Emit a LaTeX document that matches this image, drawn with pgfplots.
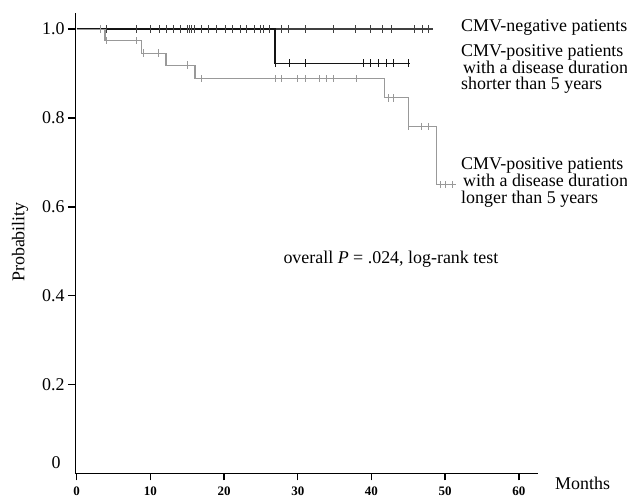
\documentclass[border=0pt]{standalone}
\usepackage{pgfplots}
\pgfplotsset{compat=1.18}
\usepackage{fontspec}
\setmainfont{Liberation Serif}

\definecolor{negc}{gray}{0.25}
\definecolor{shortc}{gray}{0.08}
\definecolor{longc}{gray}{0.6}

\newcommand{\lbl}{\fontsize{18}{19}\selectfont}

\begin{document}
\begin{tikzpicture}
\begin{axis}[
  scale only axis, width=463bp, height=460bp,
  xmin=-0.23, xmax=62.6, ymin=0, ymax=1.035,
  axis x line*=bottom, axis y line*=left,
  axis line style={-},
  x axis line style={-, line width=1.4bp},
  y axis line style={-, line width=0.9bp},
  tick align=outside, major tick length=7bp,
  xtick={0,10,...,60}, xticklabels={0,10,20,30,40,50,60},
  ytick={0.2,0.4,0.6,0.8,1.0}, yticklabels={0.2,0.4,0.6,0.8,1.0},
  x tick style={line width=1.4bp, black},
  y tick style={line width=1.4bp, black},
  xticklabel style={font=\fontsize{13}{13}\selectfont\bfseries, yshift=-2.5bp},
  yticklabel style={font=\lbl},
  clip=false,
]
% CMV-negative
\addplot[negc, line width=1.2bp] coordinates {(0,1) (48.4,1)};
\addplot[negc, only marks, mark=|, mark size=4bp, mark options={line width=1bp}]
  coordinates {
    (4.07,1) (8.14,1) (10.04,1) (11.17,1) (12.12,1) (13.11,1) (14.02,1)
    (15.06,1) (15.3,1) (15.6,1) (16.05,1) (16.96,1) (17.85,1) (17.95,1)
    (19.0,1) (20.2,1) (21.2,1) (22.2,1) (23.1,1) (24.1,1) (24.9,1)
    (25.4,1) (26.1,1) (27.8,1) (28.7,1) (31.1,1) (34.8,1) (34.9,1)
    (37.9,1) (39.9,1) (41.5,1) (42.7,1) (45.9,1) (46.9,1) (47.8,1)
  };
% CMV-positive, shorter than 5 years
\addplot[shortc, line width=1.2bp, const plot]
  coordinates {(0,1) (26.9,0.923) (45.2,0.923)};
\addplot[shortc, only marks, mark=|, mark size=4bp, mark options={line width=1bp}]
  coordinates {
    (27.0,0.923) (28.9,0.923) (31.1,0.923) (38.9,0.923) (39.9,0.923)
    (40.9,0.923) (42.1,0.923) (43.0,0.923) (45.0,0.923)
  };
% CMV-positive, longer than 5 years
\addplot[longc, line width=1.1bp, const plot]
  coordinates {(0,1) (3.84,0.974) (8.8,0.946) (12.12,0.919) (16.05,0.888)
               (41.8,0.845) (45.0,0.781) (48.8,0.650) (51.5,0.650)};
\addplot[longc, only marks, mark=|, mark size=3.6bp, mark options={line width=0.9bp}]
  coordinates {
    (3.16,1) (4.07,0.974) (8.05,0.974) (9.04,0.946) (11.07,0.946)
    (15.06,0.919) (16.96,0.888) (27.0,0.888) (27.8,0.888) (29.98,0.888)
    (31.0,0.888) (33.0,0.888) (33.9,0.888) (34.8,0.888) (37.9,0.888)
    (42.3,0.845) (43.0,0.845) (45.0,0.781) (46.8,0.781) (47.7,0.781)
    (49.3,0.650) (50.1,0.650) (51.0,0.650)
  };
\end{axis}
\begin{scope}[every node/.style={font=\lbl, inner sep=0pt}]
\node[anchor=base west] at (386bp,442bp) {CMV-negative patients};
\node[anchor=base west] at (386bp,416.8bp) {CMV-positive patients};
\node[anchor=base west] at (388bp,400.2bp) {with a disease duration};
\node[anchor=base west] at (386bp,383.5bp) {shorter than 5 years};
\node[anchor=base west] at (386bp,303.5bp) {CMV-positive patients};
\node[anchor=base west] at (388bp,286.8bp) {with a disease duration};
\node[anchor=base west] at (386bp,270.2bp) {longer than 5 years};
\node[anchor=base west] at (208.3bp,210.2bp) {overall \textit{P} = .024, log-rank test};
\node[anchor=base west] at (480bp,-15.5bp) {Months};
\node[rotate=90] at (-55bp,231.5bp) {Probability};
\node at (-19bp,10.5bp) {0};
\end{scope}
\pgfresetboundingbox
\useasboundingbox (-75bp,-24.5bp) rectangle (552bp,473.5bp);
\end{tikzpicture}
\end{document}
